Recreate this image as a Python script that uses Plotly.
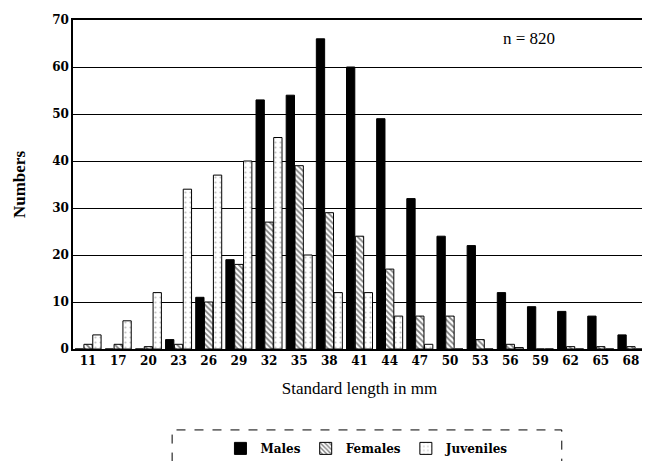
import plotly.graph_objects as go

categories = ["11", "17", "20", "23", "26", "29", "32", "35", "38", "41",
              "44", "47", "50", "53", "56", "59", "62", "65", "68"]
males = [0, 0, 0, 2, 11, 19, 53, 54, 66, 60, 49, 32, 24, 22, 12, 9, 8, 7, 3]
females = [1, 1, 0.5, 1, 10, 18, 27, 39, 29, 24, 17, 7, 7, 2, 1, 0, 0.5, 0.5, 0.5]
juveniles = [3, 6, 12, 34, 37, 40, 45, 20, 12, 12, 7, 1, 0, 0, 0.3, 0, 0, 0, 0]
y_ticks = [0, 10, 20, 30, 40, 50, 60, 70]

serif = "DejaVu Serif"

fig = go.Figure()
fig.add_trace(go.Bar(
    x=categories, y=males, name="Males",
    marker=dict(color="black", line=dict(color="black", width=1)),
))
fig.add_trace(go.Bar(
    x=categories, y=females, name="Females",
    marker=dict(color="white", line=dict(color="black", width=1),
                pattern=dict(shape="\\", fgcolor="black", bgcolor="white",
                             size=4, solidity=0.45)),
))
fig.add_trace(go.Bar(
    x=categories, y=juveniles, name="Juveniles",
    marker=dict(color="white", line=dict(color="black", width=1),
                pattern=dict(shape=".", fgcolor="#888888", bgcolor="white",
                             size=5, solidity=0.15)),
))

fig.update_layout(
    width=642, height=453,
    margin=dict(l=65, r=4, t=12, b=112, autoexpand=False),
    paper_bgcolor="white", plot_bgcolor="white",
    barmode="group", bargap=0.12, bargroupgap=0.06,
    font=dict(family=serif, color="black"),
    showlegend=True,
    legend=dict(orientation="h", x=0.513, xanchor="center", y=-0.258, yanchor="top",
                font=dict(family=serif, size=12, weight="bold"),
                bgcolor="rgba(0,0,0,0)", itemwidth=30, tracegroupgap=0),
    annotations=[dict(text="n = 820", xref="paper", yref="paper", x=0.845, y=0.978,
                      showarrow=False, font=dict(family="Liberation Serif", size=17))],
    shapes=[dict(type="rect", xref="paper", yref="paper", x0=0.173, x1=0.853,
                 y0=-0.38, y1=-0.246, line=dict(color="black", width=1, dash="dash"))],
)
fig.update_xaxes(
    type="category", showline=True, linecolor="black", linewidth=1.5, mirror=True,
    automargin=False,
    ticks="", tickfont=dict(family=serif, size=12, weight="bold"),
    title=dict(text="Standard length in mm", font=dict(family="Liberation Serif", size=17),
               standoff=15),
)
fig.update_yaxes(
    range=[0, 70], tickvals=y_ticks, showline=True, linecolor="black", linewidth=1.5,
    mirror=True, showgrid=True, gridcolor="black", gridwidth=1, zeroline=False,
    automargin=False,
    ticks="", tickfont=dict(family=serif, size=12, weight="bold"),
    title=dict(text="Numbers", font=dict(family="Liberation Serif", size=17, weight="bold"),
               standoff=22),
)

fig.write_html("out.html")
